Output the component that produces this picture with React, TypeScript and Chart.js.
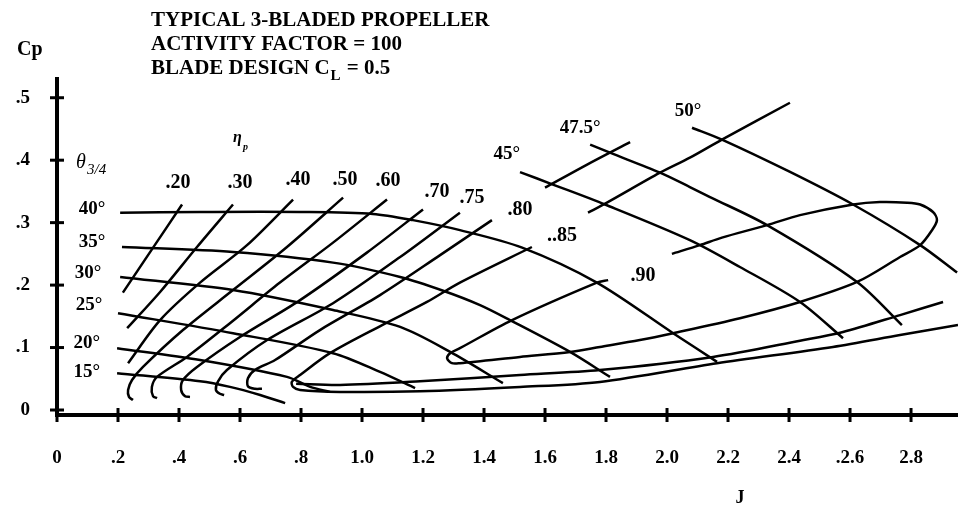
import React, { useEffect, useRef } from "react";
import { Chart, registerables } from "chart.js";

Chart.register(...registerables);

// ---- axis ticks ----
const xTickValues = [0, 0.2, 0.4, 0.6, 0.8, 1.0, 1.2, 1.4, 1.6, 1.8, 2.0, 2.2, 2.4, 2.6, 2.8];
const xTickLabels = ["0", ".2", ".4", ".6", ".8", "1.0", "1.2", "1.4", "1.6", "1.8", "2.0", "2.2", "2.4", ".2.6", "2.8"];
const yTickValues = [0, 0.1, 0.2, 0.3, 0.4, 0.5];
const yTickLabels = ["0", ".1", ".2", ".3", ".4", ".5"];

// ---- blade angle curves (theta 3/4) ----
const theta15J = [0.197, 0.469, 0.567, 0.666, 0.748];
const theta15Cp = [0.059, 0.046, 0.037, 0.024, 0.011];
const theta20J = [0.197, 0.469, 0.754, 0.83, 0.895];
const theta20Cp = [0.099, 0.08, 0.053, 0.037, 0.029];
const theta25J = [0.2, 0.577, 0.905, 1.059, 1.174];
const theta25Cp = [0.155, 0.123, 0.091, 0.061, 0.035];
const theta30J = [0.207, 0.577, 0.905, 1.125, 1.289, 1.462];
const theta30Cp = [0.213, 0.192, 0.16, 0.133, 0.093, 0.043];
const theta35J = [0.213, 0.577, 0.905, 1.125, 1.266, 1.387, 1.485, 1.682, 1.813];
const theta35Cp = [0.261, 0.253, 0.236, 0.213, 0.191, 0.168, 0.144, 0.093, 0.053];
const theta40J = [0.207, 0.469, 0.797, 1.036, 1.167, 1.321, 1.525, 1.77, 2.02, 2.164];
const theta40Cp = [0.316, 0.317, 0.317, 0.314, 0.304, 0.288, 0.26, 0.204, 0.123, 0.077];
const theta45J = [1.518, 1.626, 1.797, 2.075, 2.239, 2.436, 2.577];
const theta45Cp = [0.381, 0.361, 0.329, 0.272, 0.229, 0.173, 0.115];
const theta475J = [1.748, 1.813, 1.977, 2.075, 2.141, 2.328, 2.623, 2.77];
const theta475Cp = [0.425, 0.412, 0.38, 0.357, 0.341, 0.296, 0.205, 0.136];
const theta50J = [2.082, 2.18, 2.4, 2.61, 2.83, 2.951];
const theta50Cp = [0.452, 0.433, 0.382, 0.329, 0.264, 0.22];

// ---- efficiency curves (eta p) ----
const eta20J = [0.41, 0.315, 0.216];
const eta20Cp = [0.329, 0.26, 0.188];
const eta30J = [0.577, 0.459, 0.338, 0.23];
const eta30Cp = [0.329, 0.261, 0.189, 0.131];
const eta40J = [0.774, 0.623, 0.469, 0.338, 0.233];
const eta40Cp = [0.337, 0.264, 0.204, 0.144, 0.075];
const eta50J = [0.938, 0.754, 0.577, 0.413, 0.282, 0.246, 0.233, 0.236, 0.249];
const eta50Cp = [0.34, 0.261, 0.192, 0.128, 0.069, 0.048, 0.032, 0.021, 0.016];
const eta60J = [1.082, 0.905, 0.731, 0.567, 0.426, 0.328, 0.311, 0.315, 0.328];
const eta60Cp = [0.337, 0.268, 0.204, 0.139, 0.085, 0.053, 0.037, 0.022, 0.019];
const eta70J = [1.2, 1.016, 0.797, 0.6, 0.459, 0.413, 0.407, 0.42, 0.436];
const eta70Cp = [0.321, 0.252, 0.176, 0.117, 0.069, 0.048, 0.032, 0.022, 0.021];
const eta75J = [1.321, 1.125, 0.905, 0.689, 0.557, 0.528, 0.521, 0.534, 0.548];
const eta75Cp = [0.316, 0.245, 0.171, 0.112, 0.064, 0.046, 0.032, 0.026, 0.024];
const eta80J = [1.426, 1.256, 1.059, 0.862, 0.715, 0.649, 0.626, 0.626, 0.649, 0.672];
const eta80Cp = [0.304, 0.248, 0.184, 0.128, 0.08, 0.064, 0.051, 0.038, 0.034, 0.034];
const eta85J = [1.557, 1.321, 1.213, 1.066, 0.895, 0.797, 0.77, 0.774, 0.797, 0.928, 1.19, 1.518, 1.78, 2.164, 2.544, 2.764, 2.954];
const eta85Cp = [0.261, 0.204, 0.173, 0.136, 0.091, 0.056, 0.045, 0.037, 0.032, 0.029, 0.03, 0.037, 0.045, 0.075, 0.101, 0.12, 0.136];
const eta85bJ = [0.784, 0.928, 1.19, 1.518, 1.78, 2.151, 2.436, 2.577, 2.764, 2.905];
const eta85bCp = [0.042, 0.04, 0.046, 0.056, 0.064, 0.085, 0.111, 0.125, 0.152, 0.173];
const eta90J = [1.807, 1.77, 1.492, 1.321, 1.289, 1.279, 1.295, 1.321, 1.518, 1.682, 1.78, 1.911, 2.02, 2.239, 2.436, 2.623, 2.764, 2.83, 2.869, 2.885, 2.872, 2.83, 2.787, 2.698, 2.61, 2.436, 2.328, 2.18, 2.108, 2.016];
const eta90Cp = [0.208, 0.204, 0.144, 0.099, 0.091, 0.083, 0.075, 0.075, 0.085, 0.093, 0.101, 0.112, 0.123, 0.147, 0.173, 0.205, 0.245, 0.264, 0.288, 0.304, 0.317, 0.329, 0.332, 0.333, 0.329, 0.312, 0.296, 0.276, 0.264, 0.25];
const etaUpperAJ = [1.6, 1.738, 1.879];
const etaUpperACp = [0.356, 0.393, 0.429];
const etaUpperBJ = [1.741, 1.803, 1.977, 2.075, 2.18, 2.403];
const etaUpperBCp = [0.316, 0.332, 0.38, 0.404, 0.433, 0.492];

// ---- curve labels ----
const angleLabels = ["40°", "35°", "30°", "25°", "20°", "15°", "45°", "47.5°", "50°"];
const angleLabelJ = [0.115, 0.115, 0.102, 0.105, 0.098, 0.098, 1.475, 1.715, 2.069];
const angleLabelCp = [0.322, 0.269, 0.22, 0.168, 0.107, 0.061, 0.409, 0.452, 0.478];
const etaLabels = [".20", ".30", ".40", ".50", ".60", ".70", ".75", ".80", "..85", ".90"];
const etaLabelJ = [0.397, 0.6, 0.79, 0.944, 1.085, 1.246, 1.361, 1.518, 1.656, 1.921];
const etaLabelCp = [0.364, 0.364, 0.369, 0.369, 0.367, 0.349, 0.34, 0.321, 0.279, 0.215];

const titleLines = ["TYPICAL 3-BLADED PROPELLER", "ACTIVITY FACTOR = 100"];

const curves: [string, number[], number[]][] = [
  ["15°", theta15J, theta15Cp],
  ["20°", theta20J, theta20Cp],
  ["25°", theta25J, theta25Cp],
  ["30°", theta30J, theta30Cp],
  ["35°", theta35J, theta35Cp],
  ["40°", theta40J, theta40Cp],
  ["45°", theta45J, theta45Cp],
  ["47.5°", theta475J, theta475Cp],
  ["50°", theta50J, theta50Cp],
  [".20", eta20J, eta20Cp],
  [".30", eta30J, eta30Cp],
  [".40", eta40J, eta40Cp],
  [".50", eta50J, eta50Cp],
  [".60", eta60J, eta60Cp],
  [".70", eta70J, eta70Cp],
  [".75", eta75J, eta75Cp],
  [".80", eta80J, eta80Cp],
  [".85", eta85J, eta85Cp],
  [".85b", eta85bJ, eta85bCp],
  [".90", eta90J, eta90Cp],
  ["upperA", etaUpperAJ, etaUpperACp],
  ["upperB", etaUpperBJ, etaUpperBCp],
];

const SERIF = "'Liberation Serif', 'Times New Roman', serif";

const decorPlugin = {
  id: "decor",
  afterDraw(chart: any) {
    const ctx = chart.ctx as CanvasRenderingContext2D;
    const xs = chart.scales.x;
    const ys = chart.scales.y;
    const area = chart.chartArea;
    ctx.save();
    ctx.strokeStyle = "#000";
    ctx.fillStyle = "#000";
    // crossing tick marks
    ctx.lineWidth = 3;
    xs.ticks.forEach((t: any) => {
      const px = xs.getPixelForValue(t.value);
      ctx.beginPath();
      ctx.moveTo(px, area.bottom - 7);
      ctx.lineTo(px, area.bottom + 7);
      ctx.stroke();
    });
    ys.ticks.forEach((t: any) => {
      const py = ys.getPixelForValue(t.value);
      ctx.beginPath();
      ctx.moveTo(area.left - 7, py);
      ctx.lineTo(area.left + 7, py);
      ctx.stroke();
    });

    // title
    ctx.textAlign = "left";
    ctx.textBaseline = "alphabetic";
    ctx.font = `bold 21px ${SERIF}`;
    ctx.fillText(titleLines[0], 151, 26);
    ctx.fillText(titleLines[1], 151, 50);
    let x = 151;
    const part1 = "BLADE DESIGN C";
    ctx.fillText(part1, x, 74);
    x += ctx.measureText(part1).width;
    ctx.font = `bold 15px ${SERIF}`;
    ctx.fillText("L", x + 1, 80);
    x += ctx.measureText("L").width + 2;
    ctx.font = `bold 21px ${SERIF}`;
    ctx.fillText(" = 0.5", x, 74);

    // axis titles
    ctx.font = `bold 20px ${SERIF}`;
    ctx.fillText("Cp", 17, 55);
    ctx.textAlign = "center";
    ctx.font = `bold 18px ${SERIF}`;
    ctx.fillText("J", 740, 503);

    // theta 3/4
    ctx.textAlign = "left";
    ctx.font = `italic 20px ${SERIF}`;
    ctx.fillText("θ", 76, 168);
    ctx.font = `italic 15px ${SERIF}`;
    ctx.fillText("3/4", 87, 174);

    // eta p
    ctx.font = `italic bold 16px ${SERIF}`;
    ctx.fillText("η", 233, 142);
    ctx.font = `italic bold 10px ${SERIF}`;
    ctx.fillText("p", 243, 150);

    // curve labels
    ctx.textAlign = "center";
    ctx.textBaseline = "middle";
    ctx.font = `bold 19px ${SERIF}`;
    angleLabels.forEach((s, i) => {
      ctx.fillText(s, xs.getPixelForValue(angleLabelJ[i]), ys.getPixelForValue(angleLabelCp[i]));
    });
    ctx.font = `bold 20px ${SERIF}`;
    etaLabels.forEach((s, i) => {
      ctx.fillText(s, xs.getPixelForValue(etaLabelJ[i]), ys.getPixelForValue(etaLabelCp[i]));
    });
    ctx.restore();
  },
};

export default function App() {
  const canvasRef = useRef<HTMLCanvasElement | null>(null);

  useEffect(() => {
    const canvas = canvasRef.current;
    if (!canvas) return;
    const datasets = curves.map(([label, J, Cp]) => ({
      label,
      data: J.map((j, i) => ({ x: j, y: Cp[i] })),
      showLine: true,
      borderColor: "#000",
      backgroundColor: "#000",
      borderWidth: 2.5,
      pointRadius: 0,
      tension: 0.3,
      fill: false,
    }));
    const chart = new Chart(canvas, {
      type: "scatter",
      data: { datasets },
      options: {
        responsive: false,
        animation: false,
        events: [],
        layout: { padding: { top: 79, right: 0, left: 0, bottom: 0 } },
        plugins: {
          legend: { display: false },
          tooltip: { enabled: false },
          title: { display: false },
        },
        scales: {
          x: {
            type: "linear",
            min: 0,
            max: 2.954,
            bounds: "data",
            grid: { display: false, drawTicks: false },
            border: { display: true, color: "#000", width: 4 },
            afterFit: (scale: any) => {
              scale.height = 92;
            },
            afterBuildTicks: (scale: any) => {
              scale.ticks = xTickValues.map((v) => ({ value: v }));
            },
            ticks: {
              autoSkip: false,
              maxRotation: 0,
              padding: 32,
              color: "#000",
              font: { family: SERIF, size: 19, weight: "bold" },
              callback: (_v: any, i: number) => xTickLabels[i],
            },
          },
          y: {
            type: "linear",
            min: -0.008,
            max: 0.53,
            bounds: "data",
            grid: { display: false, drawTicks: false },
            border: { display: true, color: "#000", width: 4 },
            afterFit: (scale: any) => {
              scale.width = 57;
            },
            afterBuildTicks: (scale: any) => {
              scale.ticks = yTickValues.map((v) => ({ value: v }));
            },
            ticks: {
              padding: 27,
              color: "#000",
              font: { family: SERIF, size: 19, weight: "bold" },
              callback: (_v: any, i: number) => yTickLabels[i],
            },
          },
        },
      },
      plugins: [decorPlugin],
    } as any);
    return () => chart.destroy();
  }, []);

  return (
    <div style={{ position: "fixed", left: 0, top: 0, width: 958, height: 507, background: "#fff" }}>
      <canvas ref={canvasRef} width={958} height={507} style={{ display: "block" }} />
    </div>
  );
}
